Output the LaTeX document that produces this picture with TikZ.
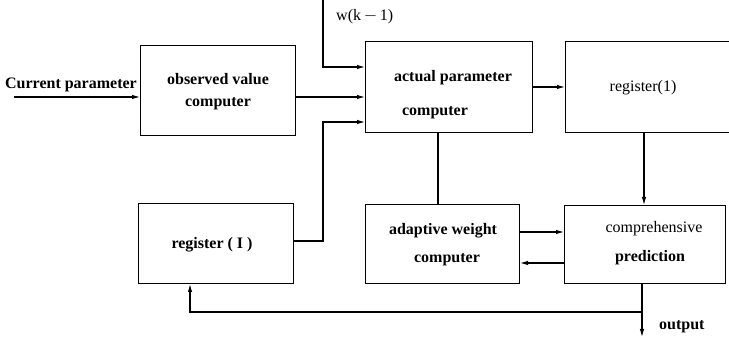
\documentclass[tikz,border=0pt]{standalone}
\usepackage{fontspec}
\setmainfont{Liberation Serif}
\usetikzlibrary{arrows.meta}
\begin{document}
\begin{tikzpicture}[x=1pt,y=-1pt,
  block/.style={draw, line width=1pt},
  lbl/.style={font=\fontsize{16}{18}\selectfont\bfseries, inner sep=0pt},
  lbllight/.style={font=\fontsize{16}{18}\selectfont, inner sep=0pt},
  wire/.style={line width=1.1pt},
  arr/.style={wire, -{Latex[length=8pt,width=4.5pt]}}]
\useasboundingbox (0,0) rectangle (729,339);
\clip (0,0) rectangle (729,339);

% blocks
\node[block, minimum width=155pt, minimum height=90pt, anchor=north west] (obs) at (140,45) {};
\node[block, minimum width=167pt, minimum height=91pt, anchor=north west] (act) at (365,41) {};
\node[block, minimum width=180pt, minimum height=91pt, anchor=north west] (reg1) at (565,41) {};
\node[block, minimum width=155pt, minimum height=80pt, anchor=north west] (reg2) at (138,203) {};
\node[block, minimum width=154pt, minimum height=79pt, anchor=north west] (ada) at (365,204) {};
\node[block, minimum width=161pt, minimum height=78pt, anchor=north west] (comp) at (564,205) {};

% block texts
\node[lbl] (t-obs1) at (218,79) {observed value};
\node[lbl] (t-obs2) at (218,104) {computer};
\node[lbl] (t-act1) at (453,78) {actual parameter};
\node[lbl] (t-act2) at (435,113) {computer};
\node[lbllight] (t-reg1) at (643,88) {register(1)};
\node[lbl] (t-reg2) at (212,245) {register ( I )};
\node[lbl] (t-ada1) at (443,231) {adaptive weight};
\node[lbl] (t-ada2) at (447,260) {computer};
\node[lbllight] (t-comp1) at (654,229) {comprehensive};
\node[lbl] (t-comp2) at (650,258) {prediction};

% outside labels and free ends
\node[lbl, anchor=east] (cur) at (137,85) {Current parameter};
\coordinate (curin) at (14,97);
\node[lbllight, anchor=west] (wk) at (336,17) {w(k\,$-$\,1)};
\coordinate (wtop) at (323,0);
\coordinate (outend) at (642,337);
\node[lbl, anchor=west] (out) at (659,327) {output};

% connectors
\draw[arr] (curin) -- (obs.west |- curin);
\draw[arr] (wtop) |- (act.west |- 0,67);
\draw[arr] (obs.east |- 0,97) -- (act.west |- 0,97);
\draw[arr] (reg2.east |- 0,241) -| (323,122) -- (act.west |- 0,122);
\draw[arr] (act.east |- 0,87) -- (reg1.west |- 0,87);
\draw[wire] (act.south -| 438,0) -- (ada.north -| 438,0);
\draw[arr] (reg1.south -| 644,0) -- (comp.north -| 644,0);
\draw[arr] (ada.east |- 0,232) -- (comp.west |- 0,232);
\draw[arr] (comp.west |- 0,263) -- (ada.east |- 0,263);
\draw[arr] (comp.south -| 642,0) -- (outend);
\draw[arr] (642,312) -| (reg2.south -| 190,0);
\end{tikzpicture}
\end{document}
